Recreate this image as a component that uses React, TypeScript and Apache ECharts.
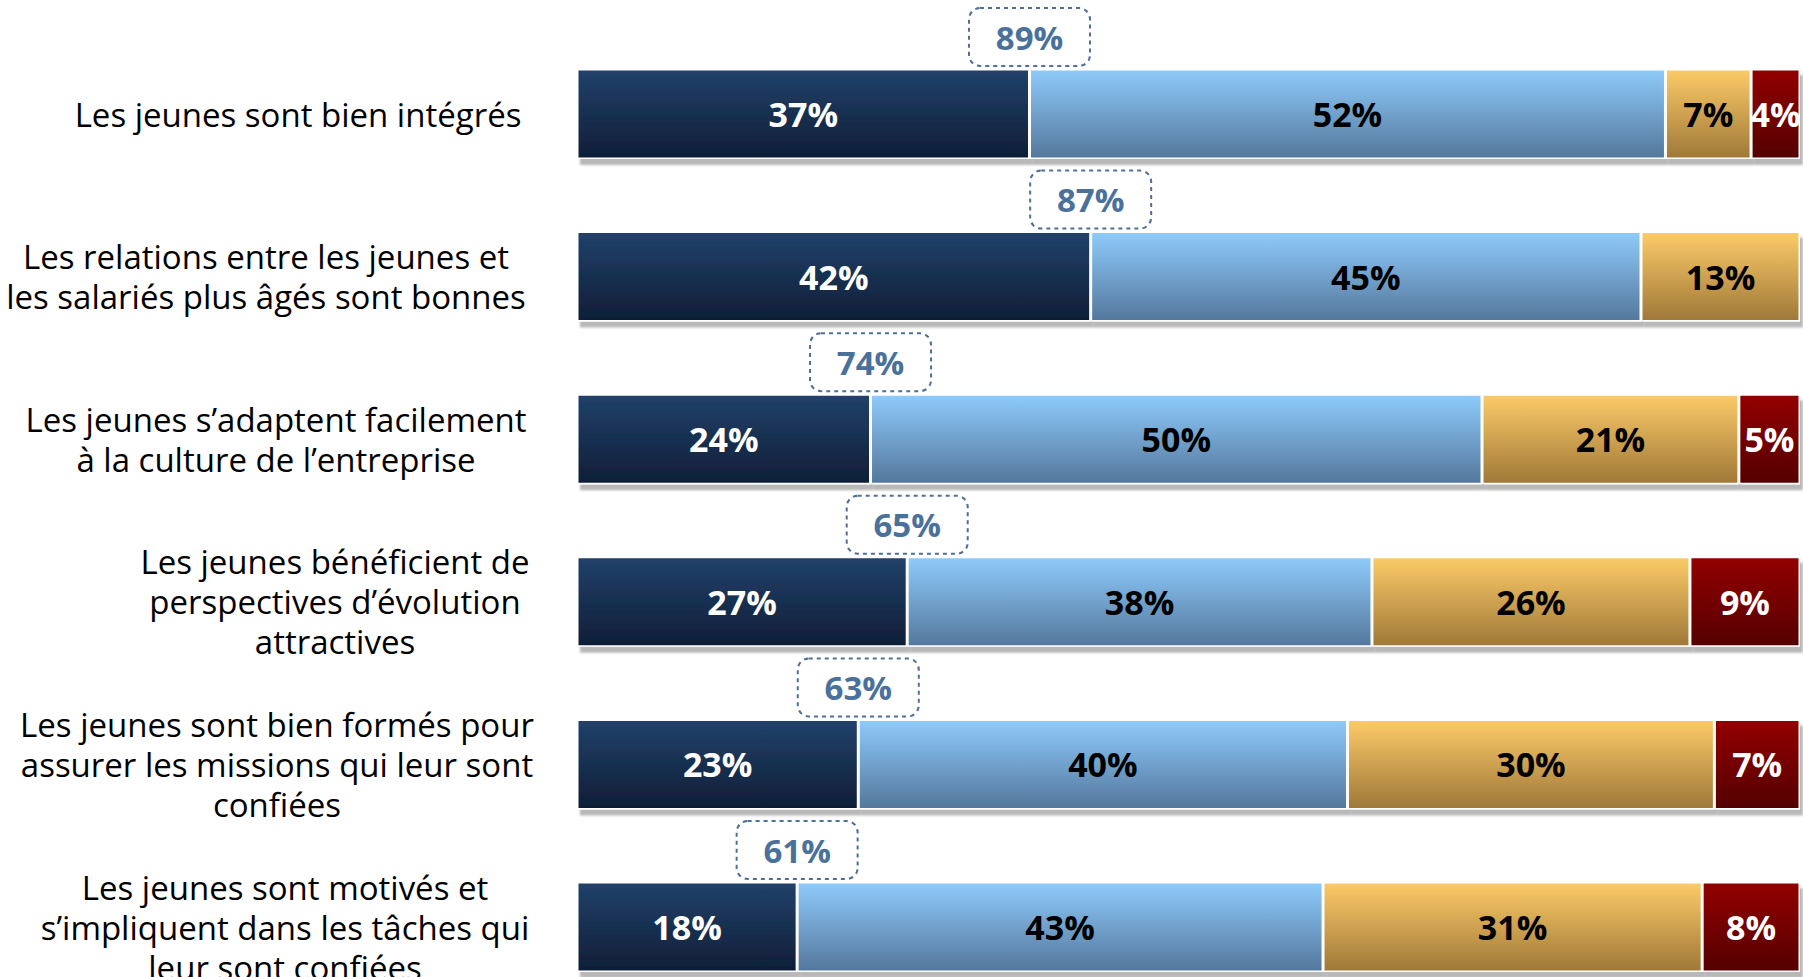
import React, { useEffect, useRef } from "react";
import * as echarts from "echarts";

// ---- data ----
const categories = [
  "Les jeunes sont bien intégrés",
  "Les relations entre les jeunes et\nles salariés plus âgés sont bonnes",
  "Les jeunes s’adaptent facilement\nà la culture de l’entreprise",
  "Les jeunes bénéficient de\nperspectives d’évolution\nattractives",
  "Les jeunes sont bien formés pour\nassurer les missions qui leur sont\nconfiées",
  "Les jeunes sont motivés et\ns’impliquent dans les tâches qui\nleur sont confiées",
];
const toutAFait = [37, 42, 24, 27, 23, 18];
const plutotOui = [52, 45, 50, 38, 40, 43];
const plutotNon = [7, 13, 21, 26, 30, 31];
const pasDuTout: (number | null)[] = [4, null, 5, 9, 7, 8];
const totalAccord = [89, 87, 74, 65, 63, 61];

// label block widths (layout only)
const labelBlockWidths = [472, 536, 516, 398, 514, 498];

const FONT = "'Open Sans', 'Noto Sans', sans-serif";

const grad = (top: string, bottom: string) => ({
  type: "linear",
  x: 0,
  y: 0,
  x2: 0,
  y2: 1,
  colorStops: [
    { offset: 0, color: top },
    { offset: 1, color: bottom },
  ],
});

export default function App() {
  const ref = useRef<HTMLDivElement>(null);
  useEffect(() => {
    if (!ref.current) return;
    const chart = echarts.init(ref.current, undefined, { renderer: "svg" });

    const rich: Record<string, any> = {};
    labelBlockWidths.forEach((w, i) => {
      rich["r" + i] = {
        width: w,
        align: "center",
        fontSize: 33,
        lineHeight: 40,
        color: "#000",
        fontFamily: FONT,
      };
    });

    const barItem = (top: string, bottom: string) => ({
      color: grad(top, bottom),
      borderColor: "#ffffff",
      borderWidth: 1.5,
      shadowColor: "rgba(0,0,0,0.28)",
      shadowBlur: 2,
      shadowOffsetX: 3,
      shadowOffsetY: 6,
    });

    const segLabel = (color: string) => ({
      show: true,
      position: "inside",
      color,
      fontSize: 34,
      fontWeight: "bold",
      fontFamily: FONT,
      formatter: (p: any) => (p.value == null ? "" : p.value + "%"),
    });

    const mk = (name: string, data: any[], top: string, bottom: string, lc: string) => ({
      name,
      type: "bar",
      stack: "total",
      barWidth: 90,
      data,
      itemStyle: barItem(top, bottom),
      label: segLabel(lc),
      emphasis: { disabled: true },
    });

    chart.setOption({
      animation: false,
      grid: {
        left: 577,
        top: 32.7,
        bottom: 1.7,
        right: 3,
        containLabel: false,
        outerBoundsMode: "none",
      },
      xAxis: { type: "value", min: 0, max: 100, show: false },
      yAxis: {
        type: "category",
        inverse: true,
        data: categories,
        axisLine: { show: false },
        axisTick: { show: false },
        axisLabel: {
          margin: 43,
          align: "right",
          formatter: (value: string, index: number) =>
            value
              .split("\n")
              .map((l) => `{r${index}|${l}}`)
              .join("\n"),
          rich,
        },
      },
      series: [
        mk("Tout à fait d’accord", toutAFait, "#21416a", "#0f1e36", "#ffffff"),
        mk("Plutôt d’accord", plutotOui, "#8ecbfb", "#54779c", "#000000"),
        mk("Plutôt pas d’accord", plutotNon, "#fccb68", "#9f7838", "#000000"),
        mk("Pas du tout d’accord", pasDuTout, "#930000", "#540000", "#ffffff"),
        {
          name: "Total d’accord",
          type: "scatter",
          symbolSize: 1,
          itemStyle: { color: "rgba(0,0,0,0)", opacity: 1 },
          z: 10,
          data: toutAFait.map((v, i) => [v, i]),
          label: {
            show: true,
            position: "inside",
            offset: [0, -77],
            formatter: (p: any) => totalAccord[p.dataIndex] + "%",
            color: "#4a719c",
            opacity: 1,
            fontSize: 33,
            fontWeight: "bold",
            fontFamily: FONT,
            backgroundColor: "#ffffff",
            borderColor: "#4f6f99",
            borderWidth: 2,
            borderType: "dotted",
            borderRadius: 10,
            width: 119,
            height: 56,
            lineHeight: 56,
            align: "center",
            verticalAlign: "middle",
          },
          emphasis: { disabled: true },
        },
      ],
    });
    return () => chart.dispose();
  }, []);
  return (
    <div
      style={{
        position: "absolute",
        left: 0,
        top: 0,
        width: 1803,
        height: 977,
        overflow: "hidden",
        background: "#fff",
      }}
    >
      <div ref={ref} style={{ width: 1803, height: 1010 }} />
    </div>
  );
}
